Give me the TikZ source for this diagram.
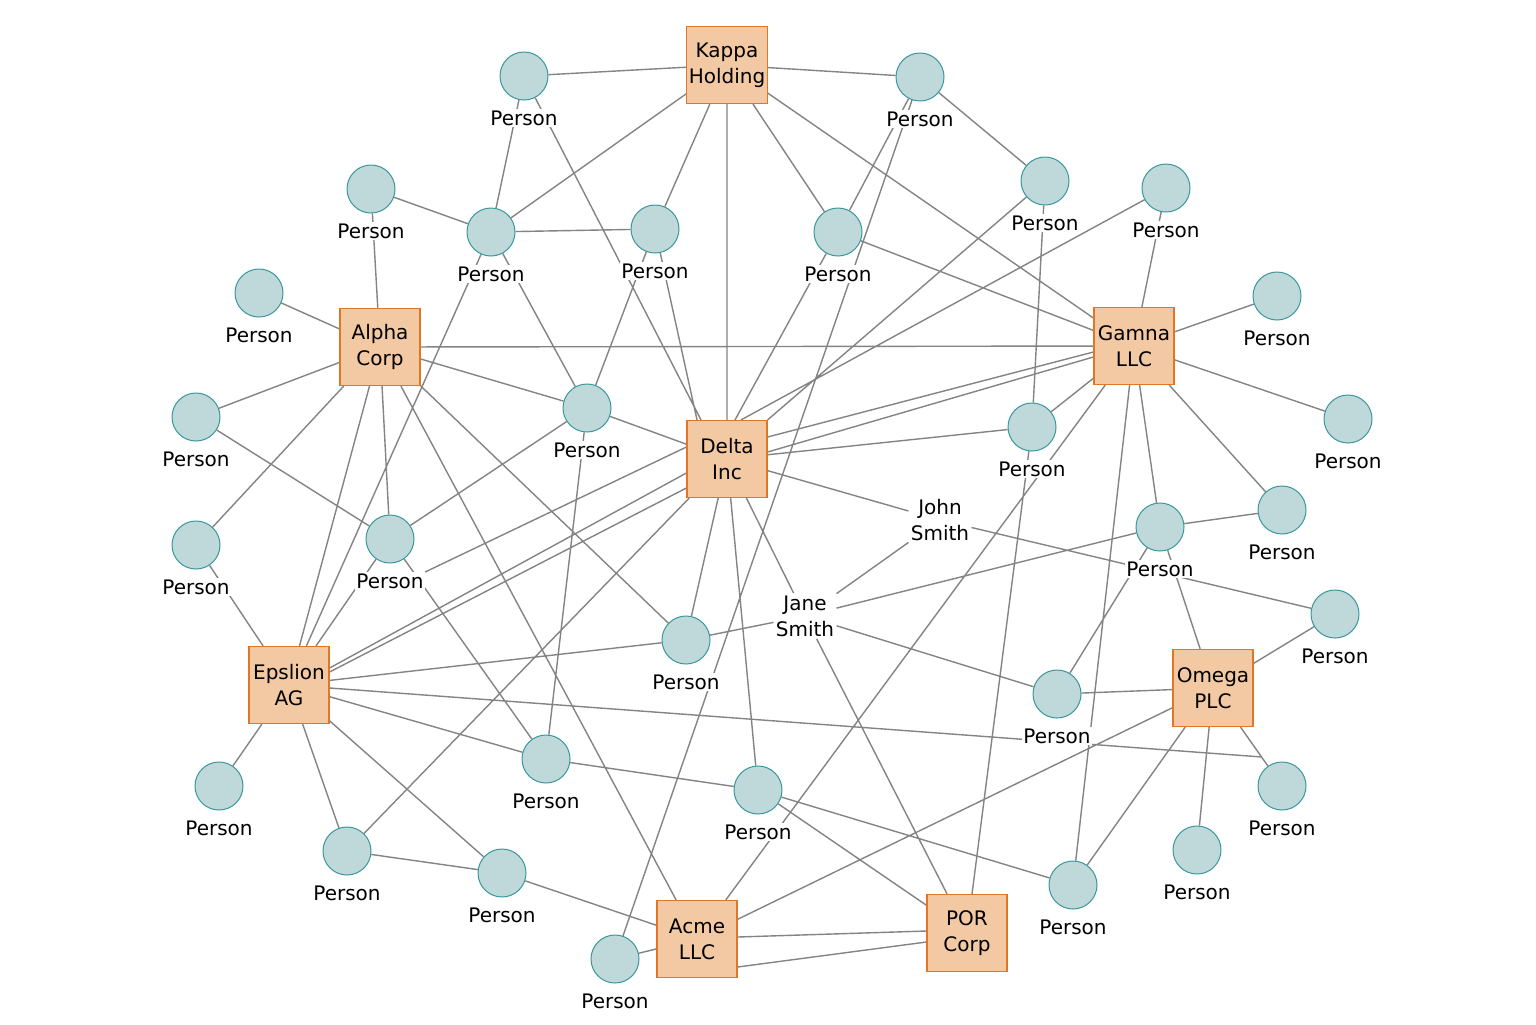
\documentclass[tikz,border=0pt]{standalone}
\usepackage{fontspec}
\setmainfont{DejaVu Sans}
\usetikzlibrary{calc}
\pgfdeclarelayer{bg}
\pgfdeclarelayer{edges}
\pgfsetlayers{bg,edges,main}
\definecolor{boxfill}{RGB}{242,201,163}
\definecolor{boxline}{RGB}{226,118,36}
\definecolor{pfill}{RGB}{191,216,218}
\definecolor{pline}{RGB}{58,152,156}
\definecolor{edgecol}{RGB}{132,132,132}
\begin{document}
\begin{tikzpicture}[x=0.5pt,y=-0.5pt,
 company/.style={draw=boxline,fill=boxfill,line width=0.6pt,minimum width=40pt,minimum height=38.5pt,align=center,font=\fontsize{10}{13}\selectfont,inner sep=1pt},
 person/.style={circle,draw=pline,fill=pfill,line width=0.5pt,minimum size=24pt,inner sep=0pt},
 plabel/.style={fill=white,inner sep=0.6pt,font=\fontsize{10}{12}\selectfont},
 pname/.style={fill=white,inner sep=1pt,align=center,font=\fontsize{10}{13}\selectfont},
 edge/.style={draw=edgecol,line width=0.7pt}]
\begin{pgfonlayer}{bg}
\fill[white] (0,0) rectangle (1536,1024);
\end{pgfonlayer}
\useasboundingbox (0,0) rectangle (1536,1024);
% companies
\node[company] (kappa) at (727,65) {Kappa\\Holding};
\node[company] (gamna) at (1134,346) {Gamna\\LLC};
\node[company] (alpha) at (380,347) {Alpha\\Corp};
\node[company] (delta) at (727,459) {Delta\\Inc};
\node[company] (eps) at (289,685) {Epslion\\AG};
\node[company] (omega) at (1213,688) {Omega\\PLC};
\node[company] (acme) at (697,939) {Acme\\LLC};
\node[company] (por) at (967,933) {POR\\Corp};
% persons
\foreach \n/\x/\y in {1/524/76,2/920/77,3/371/189,4/491/232,5/655/229,6/838/232,7/1045/181,8/1166/188,9/259/293,10/1277/296,11/587/408,12/196/417,13/1348/419,14/1032/427,15/1282/510,16/1160/527,17/196/545,18/390/539,19/1335/614,20/686/640,21/1057/694,22/546/759,23/758/790,24/1282/786,25/219/786,26/347/851,27/502/873,28/1197/850,29/1073/885,30/615/959}{
  \node[person] (p\n) at (\x,\y) {};
  \node[plabel] (l\n) at (\x,{\y+42}) {Person};
}
\node[pname] (john) at (940,520) {John\\Smith};
\node[pname] (jane) at (805,616) {Jane\\Smith};
\coordinate (c24) at (1262,757);
\begin{pgfonlayer}{edges}
\path[edge]
 (kappa) -- (p1) (kappa) -- (p2) (kappa) -- (p4) (kappa) -- (p5) (kappa) -- (delta) (kappa) -- (p6) (kappa) -- (gamna)
 (p1) -- (p4) (p1) -- ([xshift=-13pt]delta.north)
 (p2) -- (p6) (p2) -- (p30) (p2) -- (p7)
 (p3) -- (p4) (p3) -- (alpha)
 (p4) -- (p5) (p4) -- (eps) (p4) -- (p11)
 (p5) -- (p11) (p5) -- ([xshift=-15pt]delta.north)
 (p6) -- (gamna) (p6) -- ([xshift=4pt]delta.north)
 (p7) -- (p14) (p7) -- (delta.north east)
 (p8) -- (gamna) (p8) -- ([xshift=7pt]delta.north)
 (gamna) -- (p10) (gamna) -- (p13) (gamna) -- (p15) (gamna) -- (p29) (gamna) -- (p16) (gamna) -- (acme) (gamna) -- (p14) (gamna) -- (alpha)
 ([yshift=11pt]delta.east) -- ([yshift=-3pt]gamna.west)
 ([yshift=3.5pt]delta.east) -- ([yshift=-5.5pt]gamna.west)
 (p14) -- (delta) (p14) -- (por)
 (p16) -- (p15) (p16) -- (jane) (p16) -- (p21) (p16) -- (omega)
 (john) -- (delta) (john) -- (p19) (john) -- (jane)
 (jane) -- (delta) (jane) -- (por) (jane) -- (p20) (jane) -- (p21)
 (p20) -- (eps) (p20) -- (delta) (p20) -- (alpha)
 (p11) -- (alpha) (p11) -- (delta) (p11) -- (p18) (p11) -- (p22)
 (alpha) -- (p9) (alpha) -- (p12) (alpha) -- (p17) (alpha) -- (eps) (alpha) -- (p18) (alpha) -- (acme)
 (p12) -- (p18)
 (p18) -- (eps) (p18) -- (p22) (l18.north east) -- ([yshift=6pt]delta.west)
 (p17) -- (eps)
 ([yshift=8.5pt]eps.east) -- ([yshift=-7pt]delta.west)
 ([yshift=6.5pt]eps.east) -- ([yshift=-14.5pt]delta.west)
 (eps) -- (c24) (eps) -- (p22) (eps) -- (p27) (eps) -- (p26) (eps) -- (p25)
 (p26) -- (delta) (p26) -- (p27)
 (p27) -- (acme)
 (p22) -- (p23)
 (p23) -- (delta) (p23) -- (p29) (p23) -- (por)
 (acme) -- (p30) (acme) -- (omega)
 ([yshift=1pt]acme.east) -- ([yshift=1pt]por.west)
 ([yshift=-14pt]acme.east) -- ([yshift=-4.5pt]por.west)
 (omega) -- (p19) (omega) -- (p21) (omega) -- (p29) (omega) -- (p28) (omega) -- (p24);
\end{pgfonlayer}
\end{tikzpicture}
\end{document}
